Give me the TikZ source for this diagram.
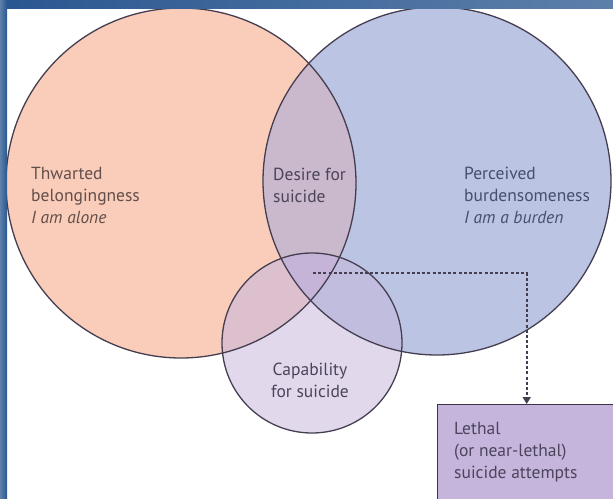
\documentclass[tikz,border=0pt]{standalone}
\usepackage{fontspec}
\setmainfont{PT Sans}
\usetikzlibrary{arrows.meta}

% region fills
\definecolor{peach}{RGB}{250,205,186}
\definecolor{periwinkle}{RGB}{188,196,228}
\definecolor{desire}{RGB}{202,184,204}
\definecolor{capab}{RGB}{226,216,236}
\definecolor{capL}{RGB}{220,192,206}
\definecolor{capR}{RGB}{192,189,223}
\definecolor{core}{RGB}{197,180,216}
\definecolor{boxfill}{RGB}{197,181,221}
% strokes and text
\definecolor{rim}{RGB}{68,62,80}
\definecolor{txtL}{RGB}{98,78,74}
\definecolor{txtM}{RGB}{76,68,90}
\definecolor{txtR}{RGB}{72,78,108}
\definecolor{frameA}{RGB}{42,86,144}
\definecolor{frameB}{RGB}{92,128,170}

\begin{document}
\begin{tikzpicture}[x=1pt,y=-1pt,
  ring/.style={circle,draw=rim,line width=1.3pt,inner sep=0pt},
  label/.style={inner sep=0pt,align=left,font=\fontsize{17.5}{22}\selectfont},
  outcome/.style={draw=rim!85!black,line width=1.4pt,fill=boxfill,inner sep=0pt},
  link/.style={draw=rim,line width=1.6pt,dash pattern=on 3pt off 2.2pt,
    -{Triangle[length=7pt,width=8pt]}}]
\useasboundingbox (0,0) rectangle (613,498);
\fill[white] (0,0) rectangle (613,498);

% circle centres
\coordinate (cL) at (181,183);
\coordinate (cR) at (437,181);
\coordinate (cC) at (312,343);

% base fills
\fill[peach] (cL) circle[radius=175pt];
\fill[periwinkle] (cR) circle[radius=174pt];
\begin{scope}
  \clip (cL) circle[radius=175pt];
  \fill[desire] (cR) circle[radius=174pt];
\end{scope}
\fill[capab] (cC) circle[radius=90pt];
\begin{scope}
  \clip (cC) circle[radius=90pt];
  \fill[capL] (cL) circle[radius=175pt];
  \fill[capR] (cR) circle[radius=174pt];
  \clip (cL) circle[radius=175pt];
  \fill[core] (cR) circle[radius=174pt];
\end{scope}

% outlines
\node[ring,minimum size=350pt] (thwarted) at (cL) {};
\node[ring,minimum size=348pt] (burden) at (cR) {};
\node[ring,minimum size=180pt] (capability) at (cC) {};

% labels
\node[label,text=txtL,anchor=north west] (thwtxt) at (31,167)
  {Thwarted\\belongingness\\\textit{I am alone}};
\node[label,text=txtM,anchor=north west] (destxt) at (273,168)
  {Desire for\\suicide};
\node[label,text=txtR,anchor=north west] (burtxt) at (464,167)
  {Perceived\\burdensomeness\\\textit{I am a burden}};
\node[label,text=txtM,align=center,anchor=north] (captxt) at (310,363)
  {Capability\\for suicide};

% outcome box and dotted link
\node[outcome,anchor=north west,minimum width=178pt,minimum height=100pt] (lethal) at (437,404) {};
\node[label,text=txtM,anchor=north west] (lethtxt) at (454,422)
  {Lethal\\(or near-lethal)\\suicide attempts};
\coordinate (origin) at (313,273);
\draw[link] (origin) -| (lethal.north);

% frame strips along the top and left edges
\shade[left color=frameA,right color=frameB] (0,0) rectangle (613,8);
\shade[left color=frameB,right color=frameA] (0,0) rectangle (7,498);
\end{tikzpicture}
\end{document}
